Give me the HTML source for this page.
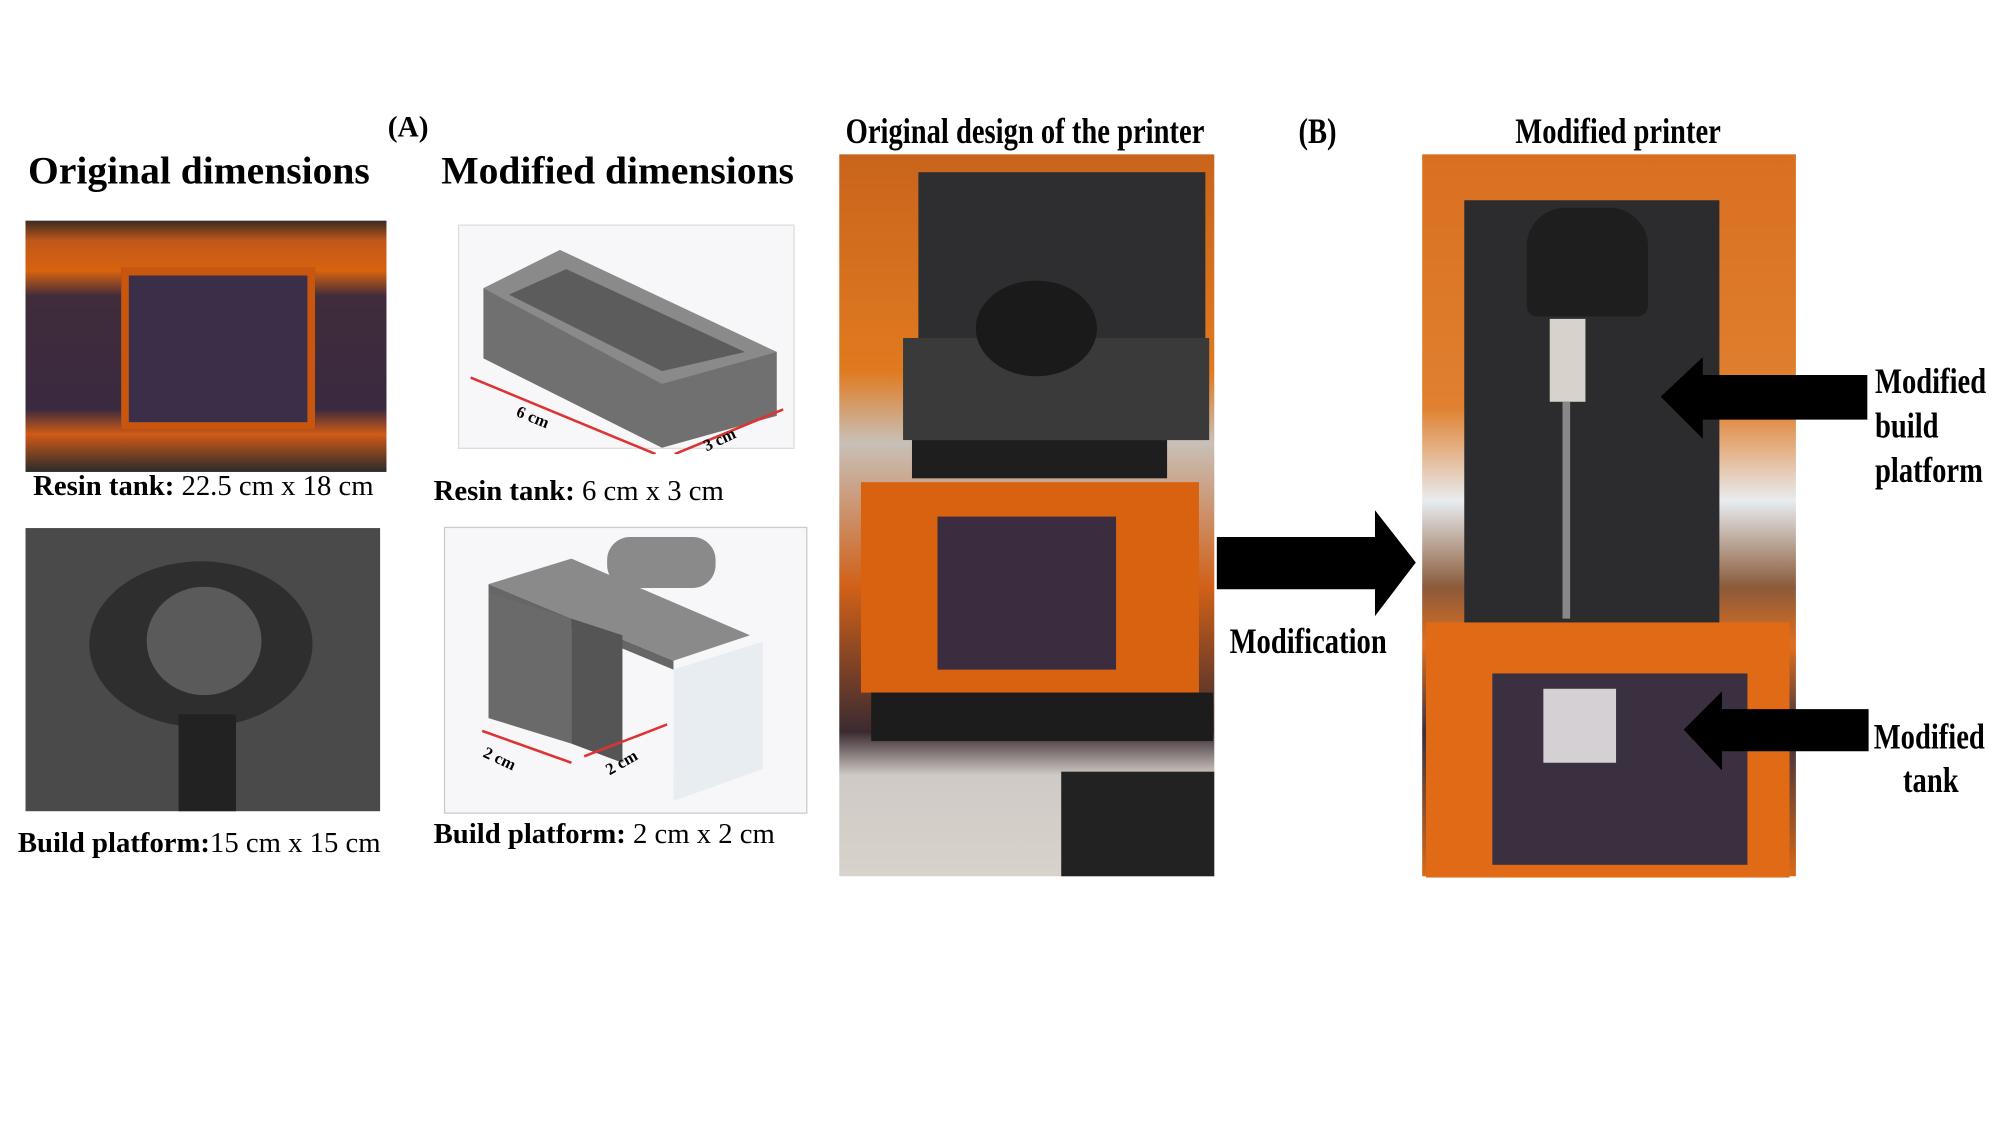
<!DOCTYPE html>
<html><head><meta charset="utf-8"><style>
html,body{margin:0;padding:0;background:#fff;width:2000px;height:1125px;overflow:hidden}
#s{position:absolute;left:0;top:0;width:1568px;height:882px;transform:scale(1.2755);transform-origin:0 0;font-family:"Liberation Serif",serif;color:#000}
.a{position:absolute}
.t{position:absolute;white-space:nowrap;font-weight:bold}
.c{transform-origin:0 0;transform:scaleX(0.8)}
</style></head><body><div id="s">
<div class="t" style="left:304px;top:87px;font-size:23px">(A)</div>
<div class="t" style="left:22px;top:116px;font-size:31px">Original dimensions</div>
<div class="t" style="left:346px;top:116px;font-size:31px">Modified dimensions</div>

<!-- photo1 -->
<div class="a" style="left:20px;top:173px;width:283px;height:197px;background:linear-gradient(180deg,#3a2a22 0,#c0581a 8%,#d8620f 20%,#402c3a 30%,#3a2a40 75%,#d05a15 85%,#2a2a2a 100%)"></div>
<div class="a" style="left:95px;top:210px;width:140px;height:115px;background:#3a2e48;border:6px solid #c8560f"></div>
<div class="t" style="left:26px;top:368px;font-size:22.5px">Resin tank: <span style="font-weight:normal">22.5 cm x 18 cm</span></div>

<!-- photo2 -->
<div class="a" style="left:20px;top:414px;width:278px;height:222px;background:#4a4a4a"></div>
<div class="a" style="left:70px;top:440px;width:175px;height:130px;border-radius:50%;background:#2e2e2e"></div>
<div class="a" style="left:115px;top:460px;width:90px;height:85px;border-radius:50%;background:#5a5a5a"></div>
<div class="a" style="left:140px;top:560px;width:45px;height:76px;background:#222"></div>
<div class="t" style="left:14px;top:648px;font-size:22.5px">Build platform:<span style="font-weight:normal">15 cm x 15 cm</span></div>

<!-- CAD1 -->
<div class="a" style="left:359px;top:176px;width:262px;height:174px;background:#f7f7f9;border:1px solid #ddd"></div>
<svg class="a" style="left:359px;top:176px" width="262" height="180">
<polygon points="20,50 80,20 250,100 250,150 160,175 20,105" fill="#707070"/>
<polygon points="20,50 80,20 250,100 160,125" fill="#8a8a8a"/>
<polygon points="40,55 85,35 225,100 160,115" fill="#5c5c5c"/>
<line x1="10" y1="120" x2="155" y2="180" stroke="#d33" stroke-width="2"/>
<line x1="170" y1="180" x2="255" y2="145" stroke="#d33" stroke-width="2"/>
<text x="45" y="150" font-size="13" font-weight="bold" transform="rotate(22 45 150)" font-family="Liberation Serif">6 cm</text>
<text x="195" y="178" font-size="13" font-weight="bold" transform="rotate(-25 195 178)" font-family="Liberation Serif">3 cm</text>
</svg>
<div class="t" style="left:340px;top:372px;font-size:22.5px">Resin tank: <span style="font-weight:normal">6 cm x 3 cm</span></div>

<!-- CAD2 -->
<div class="a" style="left:348px;top:413px;width:283px;height:223px;background:#f7f7f9;border:1px solid #ccc"></div>
<svg class="a" style="left:348px;top:413px" width="283" height="223">
<polygon points="35,45 100,25 240,85 180,105" fill="#8a8a8a"/>
<polygon points="35,45 180,105 180,112 35,52" fill="#666"/>
<polygon points="35,52 100,72 100,170 35,150" fill="#6a6a6a"/>
<polygon points="100,72 140,85 140,185 100,170" fill="#555"/>
<rect x="128" y="8" width="85" height="40" rx="18" fill="#8a8a8a"/>
<polygon points="180,112 250,90 250,190 180,215" fill="#e4eaf0" opacity=".8"/>
<line x1="30" y1="160" x2="100" y2="185" stroke="#d33" stroke-width="2"/>
<line x1="110" y1="180" x2="175" y2="155" stroke="#d33" stroke-width="2"/>
<text x="30" y="180" font-size="13" font-weight="bold" transform="rotate(25 30 180)" font-family="Liberation Serif">2 cm</text>
<text x="130" y="195" font-size="13" font-weight="bold" transform="rotate(-30 130 195)" font-family="Liberation Serif">2 cm</text>
</svg>
<div class="t" style="left:340px;top:641px;font-size:22.5px">Build platform: <span style="font-weight:normal">2 cm x 2 cm</span></div>

<!-- photo3 -->
<div class="t c" style="left:663px;top:88px;font-size:28px">Original design of the printer</div>
<div class="a" style="left:658px;top:121px;width:294px;height:566px;background:linear-gradient(180deg,#c9641c 0,#e07a20 30%,#c8c0b8 40%,#d06018 60%,#3a2a30 80%,#cfcac5 86%,#d8d2cc 100%)"></div>
<div class="a" style="left:720px;top:135px;width:225px;height:210px;background:#2e2e30"></div>
<div class="a" style="left:708px;top:265px;width:240px;height:80px;background:#3a3a3a"></div>
<div class="a" style="left:765px;top:220px;width:95px;height:75px;border-radius:50%;background:#1a1a1a"></div>
<div class="a" style="left:715px;top:345px;width:200px;height:30px;background:#1e1e1e"></div>
<div class="a" style="left:675px;top:378px;width:265px;height:165px;background:#d8620f"></div>
<div class="a" style="left:735px;top:405px;width:140px;height:120px;background:#3b2c40"></div>
<div class="a" style="left:683px;top:543px;width:268px;height:38px;background:#1c1c1c"></div>
<div class="a" style="left:832px;top:605px;width:120px;height:82px;background:#222"></div>

<div class="t c" style="left:1018px;top:88px;font-size:28px">(B)</div>

<!-- arrow -->
<svg class="a" style="left:950px;top:395px" width="165" height="95"><polygon points="4,26 128,26 128,5 160,46 128,88 128,67 4,67" fill="#000"/></svg>
<div class="t c" style="left:964px;top:488px;font-size:28px">Modification</div>

<!-- photo4 -->
<div class="t c" style="left:1188px;top:88px;font-size:28px">Modified printer</div>
<div class="a" style="left:1115px;top:121px;width:293px;height:566px;background:linear-gradient(180deg,#d87020 0,#e08030 35%,#e8ecef 48%,#8a5a3a 60%,#e07020 68%,#3a3040 80%,#d86a18 100%)"></div>
<div class="a" style="left:1148px;top:157px;width:200px;height:335px;background:#2c2c2e"></div>
<div class="a" style="left:1197px;top:163px;width:95px;height:85px;border-radius:30px 30px 8px 8px;background:#1e1e1e"></div>
<div class="a" style="left:1215px;top:250px;width:28px;height:65px;background:#d8d2cc"></div>
<div class="a" style="left:1225px;top:315px;width:6px;height:170px;background:#888"></div>
<div class="a" style="left:1118px;top:488px;width:285px;height:200px;background:#e06a15"></div>
<div class="a" style="left:1170px;top:528px;width:200px;height:150px;background:#3a3040"></div>
<div class="a" style="left:1210px;top:540px;width:57px;height:58px;background:#d5d0d4"></div>

<svg class="a" style="left:1300px;top:278px" width="168" height="70"><polygon points="2,33 35,2 35,16 164,16 164,51 35,51 35,66" fill="#000"/></svg>
<svg class="a" style="left:1318px;top:538px" width="150" height="70"><polygon points="2,34 32,4 32,18 147,18 147,51 32,51 32,66" fill="#000"/></svg>
<div class="t c" style="left:1470px;top:282px;font-size:28px;line-height:35px">Modified<br>build<br>platform</div>
<div class="t c" style="left:1469px;top:560px;font-size:28px;line-height:37px">Modified</div>
<div class="t c" style="left:1492px;top:597px;font-size:28px">tank</div>
</div></body></html>
